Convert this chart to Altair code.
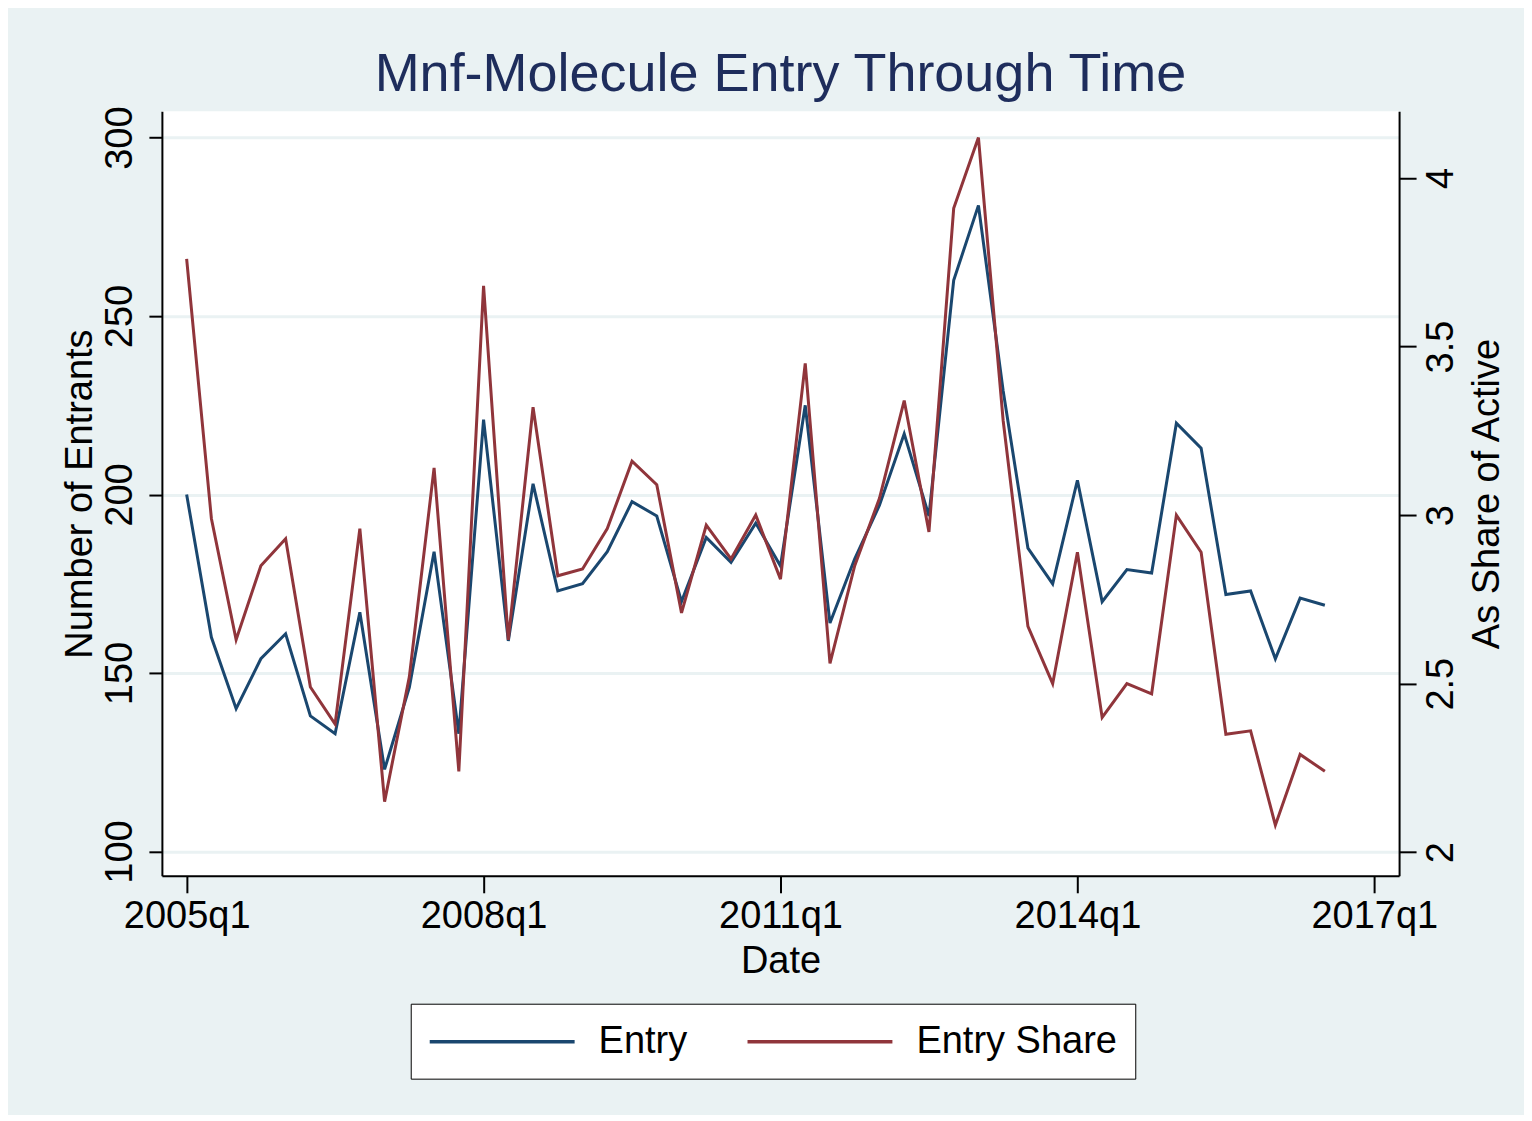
import altair as alt
import pandas as pd

# ---- data ----
entry = [200, 160, 140, 154, 161, 138, 133, 167, 123, 146,
         184, 133, 221, 159, 203, 173, 175, 184, 198, 194,
         170, 188, 181, 192, 180, 225, 164, 182, 197, 217,
         194, 260, 281, 229, 185, 175, 204, 170, 179, 178,
         220, 213, 172, 173, 154, 171, 169]
share = [3.76, 2.99, 2.63, 2.85, 2.93, 2.49, 2.38, 2.96, 2.15, 2.52,
         3.14, 2.24, 3.68, 2.63, 3.32, 2.82, 2.84, 2.96, 3.16, 3.09,
         2.71, 2.97, 2.87, 3.00, 2.81, 3.45, 2.56, 2.85, 3.05, 3.34,
         2.95, 3.91, 4.12, 3.28, 2.67, 2.50, 2.89, 2.40, 2.50, 2.47,
         3.00, 2.89, 2.35, 2.36, 2.08, 2.29, 2.24]
quarter_index = list(range(len(entry)))  # 0 = 2005q1

x_tick_values = [0, 12, 24, 36, 48]
x_tick_labels = ["2005q1", "2008q1", "2011q1", "2014q1", "2017q1"]
left_ticks = [100, 150, 200, 250, 300]
right_ticks = [2, 2.5, 3, 3.5, 4]
series_names = ["Entry", "Entry Share"]
series_colors = ["#1A476F", "#90353B"]

df = pd.DataFrame({"idx": quarter_index, "entry": entry, "share": share})

FONT = "Liberation Sans"
BG = "#EAF2F3"
W, H = 1238, 765

label_expr = ("[" + ",".join("'%s'" % s for s in x_tick_labels) + "][indexof(["
              + ",".join(str(v) for v in x_tick_values) + "], datum.value)]")

x_axis = alt.Axis(values=x_tick_values, labelExpr=label_expr, title="Date", grid=False,
                  tickSize=17, tickWidth=2, tickColor="black", domainColor="black", domainWidth=2,
                  labelPadding=5, labelFontSize=38, labelFont=FONT, labelColor="black",
                  labelFlush=False, labelOverlap=False,
                  titleFontSize=38, titleFont=FONT, titleFontWeight="normal", titleColor="black",
                  titleX=W / 2, titleY=97, titleBaseline="alphabetic", titleAlign="center")
x_enc = alt.X("idx:Q", scale=alt.Scale(domain=[-1, 49], nice=False, zero=False), axis=x_axis)

legend = alt.Legend(title=None, orient="none", legendX=249, legendY=893,
                    direction="horizontal", columns=2,
                    symbolType="M0,0L8,0", symbolSize=1314, symbolStrokeWidth=3.5,
                    symbolOffset=-19, labelOffset=149, columnPadding=53, labelLimit=0,
                    labelFontSize=38, labelFont=FONT, labelColor="black",
                    padding=18, strokeColor="black", fillColor="white", cornerRadius=0)
color_enc = alt.Color("series:N", scale=alt.Scale(domain=series_names, range=series_colors),
                      legend=legend)

left_axis = alt.Axis(orient="left", values=left_ticks, format="d", title="Number of Entrants",
                     grid=True, gridColor=BG, gridWidth=3,
                     tickSize=13, tickWidth=2, tickColor="black", domainColor="black", domainWidth=2,
                     labelAngle=270, labelAlign="center", labelBaseline="alphabetic", labelPadding=17,
                     labelFontSize=38, labelFont=FONT, labelColor="black",
                     labelFlush=False, labelOverlap=False,
                     titleFontSize=38, titleFont=FONT, titleFontWeight="normal", titleColor="black",
                     titleAngle=270, titleX=-70, titleY=H / 2, titleAlign="center",
                     titleBaseline="alphabetic")

right_axis = alt.Axis(orient="right", values=right_ticks, format="~g", title="As Share of Active",
                      grid=False,
                      tickSize=17, tickWidth=2, tickColor="black", domainColor="black", domainWidth=2,
                      labelAngle=270, labelAlign="center", labelBaseline="alphabetic", labelPadding=36,
                      labelFontSize=38, labelFont=FONT, labelColor="black",
                      labelFlush=False, labelOverlap=False,
                      titleFontSize=38, titleFont=FONT, titleFontWeight="normal", titleColor="black",
                      titleAngle=270, titleX=99, titleY=H / 2, titleAlign="center",
                      titleBaseline="alphabetic")

base = alt.Chart(df)

entry_line = base.transform_calculate(series="'%s'" % series_names[0]).mark_line(
    strokeWidth=3).encode(
    x=x_enc,
    y=alt.Y("entry:Q", scale=alt.Scale(domain=[93.2, 307.36], nice=False, zero=False), axis=left_axis),
    color=color_enc,
)

share_line = base.transform_calculate(series="'%s'" % series_names[1]).mark_line(
    strokeWidth=3).encode(
    x=x_enc,
    y=alt.Y("share:Q", scale=alt.Scale(domain=[1.930, 4.198], nice=False, zero=False), axis=right_axis),
    color=color_enc,
)

chart = alt.layer(entry_line, share_line).resolve_scale(y="independent").properties(
    width=W, height=H,
    background=BG,
    autosize=alt.AutoSizeParams(type="none"),
    padding={"left": 154, "top": 103, "right": 125, "bottom": 239},
    title=alt.TitleParams(text="Mnf-Molecule Entry Through Time", fontSize=54, font=FONT,
                          fontWeight="normal", color="#1E2D5C", anchor="middle", offset=4),
).configure_view(stroke=None, fill="white")

chart.save("out.html", embed_options={"renderer": "svg", "actions": False})
